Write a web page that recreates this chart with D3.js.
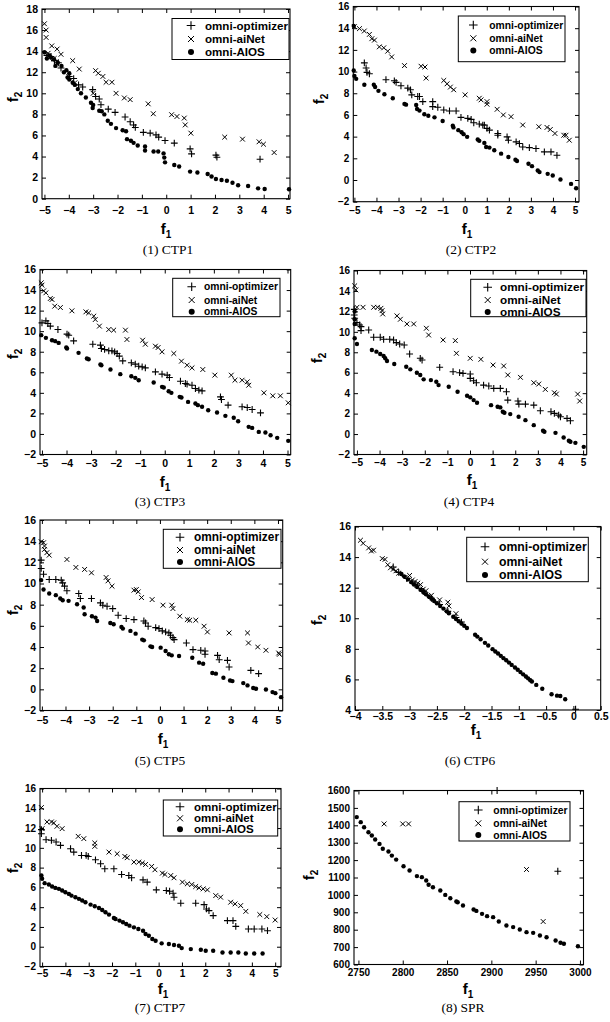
<!DOCTYPE html>
<html><head><meta charset="utf-8">
<script src="https://cdnjs.cloudflare.com/ajax/libs/d3/7.8.5/d3.min.js"></script>
<style>body{margin:0;background:#fff}svg{display:block}</style>
</head><body>
<svg id="chart" width="610" height="1022"></svg>
<script>
// ---------- data ----------
const seriesNames = ["omni-optimizer", "omni-aiNet", "omni-AIOS"];
const captions = ["(1) CTP1","(2) CTP2","(3) CTP3","(4) CTP4","(5) CTP5","(6) CTP6","(7) CTP7","(8) SPR"];

const xTicksCTP = [-5,-4,-3,-2,-1,0,1,2,3,4,5];
const yTicksCTP1 = [0,2,4,6,8,10,12,14,16,18];
const yTicksCTP = [-2,0,2,4,6,8,10,12,14,16];
const xTicksCTP6 = [-4,-3.5,-3,-2.5,-2,-1.5,-1,-0.5,0,0.5];
const yTicksCTP6 = [4,6,8,10,12,14,16];
const xTicksSPR = [2750,2800,2850,2900,2950,3000];
const yTicksSPR = [600,700,800,900,1000,1100,1200,1300,1400,1500,1600];

// CTP1
const ctp1Optimizer = [[-4.9,13.6],[-4.73,13.5],[-4.59,13.1],[-4.43,12.9],[-4.32,12.4],[-3.98,11.6],[-3.8,11.4],[-3.6,10.8],[-3.43,10.6],[-3.02,10.35],[-2.9,9.7],[-2.75,9.46],[-2.68,8.92],[-2.38,8.5],[-2.1,8.19],[-1.69,7.75],[-1.48,7.3],[-1.34,7.0],[-1.27,6.76],[-0.94,6.29],[-0.66,6.22],[-0.42,6.06],[-0.31,5.84],[-0.05,5.52],[0.33,5.27],[0.98,4.73],[1.04,4.25],[2.04,4.13],[2.08,3.94],[3.85,3.75]];
const ctp1AiNet = [[-5.0,16.6],[-4.93,16.0],[-4.93,15.3],[-4.85,13.8],[-4.7,14.5],[-4.48,14.2],[-4.6,13.3],[-4.32,13.7],[-4.0,11.6],[-3.84,13.1],[-3.75,11.0],[-3.57,12.3],[-3.0,10.0],[-2.9,12.15],[-2.79,11.9],[-2.6,11.6],[-2.47,11.05],[-2.23,11.05],[-2.06,10.0],[-1.72,9.56],[-1.48,9.4],[-0.74,9.0],[-0.53,8.06],[0.22,7.97],[0.44,7.8],[0.74,7.65],[0.78,7.0],[1.01,6.22],[2.4,5.84],[3.13,5.65],[3.81,5.4],[3.99,5.17],[4.43,4.38]];
const ctp1Aios = [[-5.0,13.9],[-4.9,13.3],[-4.8,13.6],[-4.73,13.4],[-4.6,13.2],[-4.55,12.6],[-4.45,12.9],[-4.3,12.6],[-4.2,12.0],[-4.1,12.2],[-4.05,11.5],[-3.98,11.9],[-3.98,11.3],[-3.84,11.0],[-3.75,10.8],[-3.63,10.4],[-3.5,10.0],[-3.3,9.6],[-3.09,9.1],[-3.02,8.6],[-3.0,8.9],[-2.75,8.35],[-2.65,8.3],[-2.54,8.0],[-2.4,7.4],[-2.27,7.1],[-2.06,6.7],[-1.79,6.5],[-1.65,6.4],[-1.61,5.65],[-1.45,5.5],[-1.34,5.3],[-1.17,5.05],[-0.87,4.95],[-0.87,4.57],[-0.52,4.48],[-0.33,4.48],[-0.11,4.3],[-0.08,3.9],[-0.05,3.45],[0.33,3.2],[0.53,3.05],[0.98,2.57],[1.28,2.48],[1.7,2.35],[1.86,2.1],[2.04,1.87],[2.27,1.78],[2.49,1.71],[2.72,1.52],[2.95,1.27],[3.36,1.2],[3.77,0.98],[4.04,0.92],[5.04,0.89]];

// CTP2
const ctp2Optimizer = [[-4.55,10.8],[-4.47,10.33],[-4.43,9.93],[-4.32,9.8],[-3.57,9.25],[-3.19,9.15],[-3.11,9.0],[-2.89,8.69],[-2.58,8.47],[-2.46,8.32],[-2.4,7.85],[-2.13,7.7],[-2.05,7.7],[-1.9,7.23],[-1.45,7.23],[-1.45,6.77],[-1.22,6.71],[-0.95,6.46],[-0.69,6.37],[-0.39,6.37],[-0.17,5.78],[0.14,5.68],[0.29,5.59],[0.41,5.28],[0.66,5.16],[0.82,5.07],[0.89,5.07],[1.01,4.76],[1.12,4.6],[1.5,4.29],[1.5,4.13],[1.92,3.98],[1.98,3.67],[2.33,3.52],[2.48,3.36],[2.63,3.05],[2.93,2.99],[3.23,2.9],[3.61,2.59],[3.91,2.59],[4.18,2.28]];
const ctp2AiNet = [[-5.0,14.14],[-4.77,13.96],[-4.55,13.74],[-4.32,13.43],[-4.21,13.03],[-4.09,12.9],[-3.87,12.28],[-3.67,12.19],[-3.49,11.88],[-3.31,11.35],[-2.73,10.55],[-1.98,10.49],[-1.8,10.42],[-1.75,9.4],[-0.95,9.18],[-0.8,8.87],[-0.65,8.57],[-0.5,8.32],[0.02,7.85],[0.66,7.54],[0.74,7.39],[1.01,7.23],[1.01,6.99],[1.47,6.52],[1.75,6.0],[2.1,5.84],[2.63,5.07],[3.36,4.91],[3.73,4.85],[3.88,4.66],[4.09,4.29],[4.49,4.13],[4.59,4.13],[4.74,3.67]];
const ctp2Aios = [[-5.03,14.2],[-5.03,10.1],[-5.0,9.6],[-4.92,9.33],[-4.55,8.78],[-4.12,8.78],[-4.06,8.57],[-3.91,8.22],[-3.64,7.91],[-3.26,7.54],[-2.73,7.02],[-2.66,6.95],[-2.2,6.92],[-2.16,6.55],[-2.05,6.4],[-1.83,6.06],[-1.65,5.93],[-1.37,5.78],[-1.0,5.44],[-0.54,5.0],[-0.51,4.85],[-0.29,4.6],[-0.14,4.41],[-0.05,4.23],[0.11,3.98],[0.59,3.73],[0.66,3.61],[0.89,3.42],[0.97,3.05],[1.12,2.99],[1.34,2.74],[1.65,2.43],[1.98,2.12],[2.3,1.87],[2.37,1.75],[2.89,1.5],[3.05,1.28],[3.31,0.88],[3.39,0.73],[3.76,0.57],[3.99,0.42],[4.34,0.05],[4.82,-0.36],[5.05,-0.76]];

// CTP3
const ctp3Optimizer = [[-5.0,10.81],[-4.84,11.0],[-4.76,10.75],[-4.66,10.49],[-4.35,10.16],[-3.98,9.71],[-3.91,9.61],[-3.71,9.06],[-2.93,8.73],[-2.62,8.64],[-2.58,8.31],[-2.45,8.22],[-2.28,8.09],[-2.15,8.09],[-2.04,7.99],[-1.94,7.83],[-1.85,7.57],[-1.71,7.11],[-1.36,6.92],[-1.2,6.79],[-1.06,6.59],[-0.92,6.53],[-0.79,6.43],[-0.38,6.04],[-0.11,5.82],[0.1,5.72],[0.19,5.49],[0.64,5.13],[0.84,4.91],[0.91,4.84],[1.11,4.74],[1.25,4.42],[1.39,4.26],[1.52,4.19],[2.27,3.61],[2.31,3.35],[2.58,2.8],[3.15,2.64],[3.36,2.57],[3.56,2.38],[3.9,2.05]];
const ctp3AiNet = [[-5.03,14.7],[-5.0,14.48],[-4.93,13.92],[-4.84,13.73],[-4.66,13.18],[-4.59,13.08],[-4.48,12.43],[-4.25,12.3],[-3.78,11.98],[-3.21,11.88],[-3.1,11.78],[-2.89,11.46],[-2.83,11.13],[-2.66,10.49],[-2.28,10.16],[-2.08,10.1],[-1.6,10.1],[-1.54,9.19],[-0.9,9.12],[-0.79,8.73],[-0.38,8.54],[-0.27,8.41],[-0.11,7.99],[0.37,7.83],[0.68,7.08],[0.91,6.69],[1.11,6.43],[1.55,6.27],[2.04,5.72],[2.71,5.72],[2.86,5.23],[3.15,5.23],[3.36,5.07],[3.42,4.74],[4.04,4.0],[4.4,3.71],[4.71,3.71],[5.03,3.03]];
const ctp3Aios = [[-5.03,9.61],[-4.84,9.35],[-4.59,9.12],[-4.46,9.03],[-4.32,8.86],[-4.01,8.41],[-3.98,8.31],[-3.51,7.89],[-3.17,7.34],[-3.1,7.27],[-2.62,6.76],[-2.58,6.69],[-2.21,6.27],[-1.81,5.82],[-1.36,5.62],[-1.2,5.46],[-1.06,5.23],[-0.45,5.0],[-0.11,4.58],[-0.04,4.52],[0.16,4.16],[0.27,4.0],[0.61,3.61],[0.68,3.55],[0.95,3.12],[1.25,2.96],[1.35,2.8],[1.52,2.64],[1.77,2.31],[2.13,2.09],[2.47,1.76],[2.81,1.57],[2.99,1.24],[3.42,0.69],[3.56,0.59],[3.83,0.2],[4.1,0.14],[4.31,-0.12],[4.58,-0.38],[5.03,-0.67]];

// CTP4
const ctp4Optimizer = [[-5.12,12.2],[-5.12,11.65],[-5.1,11.33],[-5.0,10.9],[-4.88,10.67],[-4.82,10.51],[-4.82,10.12],[-4.48,10.18],[-4.26,9.47],[-3.97,9.47],[-3.82,9.27],[-3.55,9.27],[-3.38,9.2],[-3.26,8.94],[-3.11,8.81],[-2.91,8.71],[-2.67,7.83],[-2.2,7.41],[-2.12,7.24],[-1.34,6.53],[-0.75,6.1],[-0.46,6.0],[-0.31,5.94],[0.01,5.87],[0.01,5.45],[0.16,5.22],[0.28,5.02],[0.6,4.79],[0.83,4.7],[1.05,4.47],[1.34,4.47],[1.61,4.14],[1.67,3.32],[2.12,3.23],[2.16,2.93],[2.45,2.93],[2.82,2.83],[3.11,2.28],[3.58,2.18],[3.73,2.02],[3.92,1.85],[4.0,1.69],[4.29,1.53],[4.44,1.3]];
const ctp4AiNet = [[-5.1,14.5],[-5.05,14.1],[-5.0,12.4],[-4.73,12.4],[-4.26,12.4],[-4.09,12.4],[-3.94,12.3],[-3.89,12.07],[-3.86,11.75],[-3.23,11.56],[-3.08,11.23],[-2.79,10.77],[-2.49,10.77],[-1.93,10.35],[-1.83,9.69],[-1.19,9.2],[-0.65,9.14],[-0.6,7.9],[0.01,7.41],[0.48,7.31],[1.02,6.75],[1.49,6.66],[1.67,5.78],[2.23,5.55],[2.82,5.02],[3.04,4.89],[3.33,4.37],[3.73,4.04],[3.82,3.91],[4.76,3.91],[4.85,3.23]];
const ctp4Aios = [[-5.1,11.98],[-5.1,11.23],[-5.1,10.77],[-5.1,9.37],[-5.0,8.81],[-4.34,8.22],[-4.14,8.06],[-3.97,7.83],[-3.82,7.64],[-3.75,7.41],[-3.67,7.15],[-3.35,6.85],[-2.82,6.59],[-2.64,6.33],[-2.35,6.0],[-2.2,5.77],[-2.05,5.35],[-1.73,5.28],[-1.49,5.12],[-1.39,4.79],[-0.94,4.63],[-0.55,4.14],[-0.13,3.75],[0.01,3.59],[0.16,3.32],[0.31,3.06],[0.93,2.83],[1.22,2.67],[1.34,2.61],[1.45,2.18],[1.52,2.08],[1.78,1.95],[2.15,1.69],[2.45,1.36],[2.82,0.87],[3.23,0.32],[3.29,0.22],[3.78,0.12],[4.14,-0.33],[4.37,-0.66],[4.44,-0.76],[4.66,-0.86],[5.03,-1.25]];

// CTP5
const ctp5Optimizer = [[-5.03,12.21],[-5.03,11.42],[-4.93,10.88],[-4.69,10.38],[-4.41,10.38],[-4.18,10.32],[-4.12,10.06],[-4.04,9.75],[-3.94,9.31],[-3.44,9.05],[-3.37,8.58],[-2.9,8.58],[-2.52,8.17],[-2.42,7.95],[-2.24,7.85],[-2.0,7.63],[-1.77,7.0],[-1.43,6.69],[-1.1,6.59],[-0.68,6.46],[-0.61,6.27],[-0.5,5.96],[-0.18,5.83],[-0.04,5.74],[0.1,5.52],[0.24,5.42],[0.38,5.33],[0.45,5.11],[0.55,4.89],[0.6,4.7],[1.12,4.38],[1.4,3.75],[1.73,3.69],[1.91,3.62],[1.91,3.31],[2.44,3.21],[2.51,2.8],[2.86,2.74],[2.93,2.11],[3.85,1.79],[4.18,1.48]];
const ctp5AiNet = [[-5.03,13.95],[-4.93,13.85],[-4.89,13.54],[-4.89,13.22],[-4.79,12.91],[-4.69,12.68],[-3.94,12.27],[-3.56,11.52],[-3.19,11.33],[-2.9,11.01],[-2.28,10.57],[-2.2,10.25],[-2.03,9.75],[-1.1,9.37],[-1.0,9.43],[-0.92,9.21],[-0.78,8.67],[-0.33,8.48],[0.13,7.95],[0.5,7.95],[0.55,7.63],[0.84,6.91],[1.16,6.59],[1.26,6.53],[1.52,6.53],[1.87,5.96],[2.01,5.42],[2.93,5.33],[3.71,5.33],[3.75,4.38],[4.14,4.0],[4.49,3.69],[5.03,3.43],[5.06,3.31]];
const ctp5Aios = [[-5.03,10.32],[-4.93,9.43],[-4.69,9.05],[-4.41,8.9],[-4.22,8.58],[-4.12,8.42],[-3.87,8.36],[-3.51,8.04],[-3.23,7.73],[-3.19,7.1],[-2.88,6.91],[-2.73,6.78],[-2.66,6.46],[-2.1,6.27],[-1.96,6.15],[-1.63,5.9],[-1.57,5.74],[-1.25,5.52],[-1.03,5.26],[-0.75,4.7],[-0.68,4.63],[-0.4,4.06],[-0.33,4.0],[0.03,3.94],[0.24,3.62],[0.38,3.31],[0.5,3.21],[0.81,3.15],[1.37,2.99],[1.66,2.52],[1.83,2.42],[2.22,1.54],[2.37,1.48],[2.69,1.1],[2.97,0.84],[3.07,0.78],[3.53,0.59],[3.71,0.37],[3.95,0.12],[4.07,0.05],[4.49,-0.01],[4.77,-0.26],[4.89,-0.36],[5.13,-0.74]];

// CTP6
const ctp6Optimizer = [[-3.3,13.35],[-3.2,13.0],[-3.05,12.6],[-2.9,12.2],[-2.75,11.75],[-2.6,11.3],[-2.45,10.9],[-2.3,10.45],[-2.15,10.05],[-2.05,9.75],[0.04,4.05]];
const ctp6AiNet = [[-3.9,15.1],[-3.85,14.9],[-3.75,14.6],[-3.7,14.4],[-3.66,14.45],[-3.5,13.9],[-3.45,13.85],[-3.4,13.5],[-3.35,13.3],[-3.3,13.2],[-3.25,13.1],[-3.2,12.95],[-3.0,12.8],[-2.95,12.5],[-2.9,12.4],[-2.85,12.3],[-2.8,12.2],[-2.75,11.9],[-2.7,11.8],[-2.6,11.5],[-2.45,11.2],[-2.3,11.05],[-2.28,10.8],[-2.15,10.3]];
const ctp6Aios = [[-3.15,12.89],[-3.1,12.74],[-3.03,12.54],[-2.97,12.36],[-2.92,12.21],[-2.86,12.04],[-2.8,11.86],[-2.75,11.72],[-2.7,11.57],[-2.65,11.42],[-2.6,11.27],[-2.55,11.13],[-2.5,10.98],[-2.44,10.8],[-2.38,10.63],[-2.32,10.45],[-2.28,10.33],[-2.2,10.1],[-2.15,9.95],[-2.1,9.8],[-2.05,9.66],[-2.0,9.51],[-1.95,9.36],[-1.8,8.92],[-1.76,8.8],[-1.7,8.63],[-1.62,8.39],[-1.56,8.22],[-1.48,7.98],[-1.43,7.83],[-1.38,7.69],[-1.33,7.54],[-1.28,7.39],[-1.23,7.25],[-1.18,7.1],[-1.13,6.95],[-1.07,6.78],[-1.02,6.63],[-0.97,6.48],[-0.92,6.33],[-0.87,6.19],[-0.83,6.07],[-0.79,5.95],[-0.76,5.86],[-0.68,5.64],[-0.57,5.39],[-0.4,5.03],[-0.3,4.94],[-0.24,4.92],[-0.15,4.7]];

// CTP7
const ctp7Optimizer = [[-5.03,11.84],[-5.03,11.43],[-4.83,10.82],[-4.6,10.76],[-4.4,10.59],[-4.21,10.25],[-3.78,9.91],[-3.64,9.57],[-3.31,9.23],[-3.11,9.23],[-3.02,9.13],[-2.71,8.79],[-2.49,8.39],[-2.31,7.88],[-1.92,7.88],[-1.59,7.31],[-1.28,7.2],[-1.16,6.97],[-0.67,6.76],[-0.49,6.53],[-0.1,5.75],[0.33,5.68],[0.47,5.61],[0.62,5.41],[0.66,5.01],[0.95,4.4],[1.59,4.4],[1.95,4.26],[2.05,3.82],[2.16,3.65],[2.34,3.14],[2.95,2.64],[3.19,2.64],[3.31,2.06],[3.85,1.79],[4.1,1.79],[4.43,1.79],[4.67,1.62]];
const ctp7AiNet = [[-5.03,14.07],[-5.0,11.94],[-4.79,12.62],[-4.6,12.62],[-4.5,12.52],[-4.36,12.18],[-4.14,11.94],[-3.45,11.16],[-3.21,10.93],[-2.74,10.49],[-2.74,10.15],[-2.13,9.57],[-1.78,9.4],[-1.45,9.13],[-1.35,9.0],[-1.06,8.56],[-0.85,8.56],[-0.7,8.46],[-0.56,8.32],[-0.3,8.12],[-0.16,7.78],[0.16,7.44],[0.27,7.31],[0.52,7.2],[0.66,6.97],[1.02,6.53],[1.23,6.36],[1.42,6.29],[1.59,6.09],[1.73,5.95],[1.91,5.85],[2.09,5.75],[2.45,5.17],[2.66,5.01],[3.09,4.5],[3.28,4.33],[3.52,4.16],[3.74,3.58],[4.34,3.25],[4.64,3.04],[5.0,2.7]];
const ctp7Aios = [[-5.03,7.2],[-5.0,6.87],[-4.89,6.43],[-4.71,6.29],[-4.57,6.09],[-4.43,5.95],[-4.28,5.85],[-4.14,5.68],[-4.0,5.51],[-3.85,5.34],[-3.74,5.17],[-3.57,5.01],[-3.42,4.84],[-3.28,4.67],[-3.14,4.5],[-2.92,4.26],[-2.74,4.09],[-2.56,3.92],[-2.42,3.72],[-2.28,3.48],[-2.13,3.25],[-1.92,2.91],[-1.85,2.81],[-1.68,2.64],[-1.53,2.47],[-1.39,2.3],[-1.25,2.13],[-1.06,1.96],[-0.87,1.79],[-0.67,1.62],[-0.56,1.28],[-0.42,1.11],[-0.27,0.78],[-0.13,0.61],[0.13,0.34],[0.44,0.27],[0.66,0.17],[0.87,0.1],[0.99,-0.14],[1.38,-0.24],[1.81,-0.31],[2.02,-0.41],[2.34,-0.41],[2.74,-0.58],[3.09,-0.58],[3.42,-0.58],[3.74,-0.68],[4.1,-0.68],[4.46,-0.68]];

// SPR
const sprOptimizer = [[2906.5,1600],[2975,1136]];
const sprAiNet = [[2779,1408],[2800,1408],[2806.6,1408],[2939.7,1146],[2958.5,847]];
const sprAios = [[2748.1,1447],[2752.6,1418],[2756.4,1389],[2761.3,1360],[2765.1,1341],[2768.9,1318],[2773.8,1293],[2777.5,1265],[2783.9,1249],[2787.7,1226],[2792.6,1203],[2800.9,1165],[2807.7,1140],[2816,1108],[2821.6,1102],[2826.5,1083],[2829.2,1058],[2834.1,1044],[2842.4,1025],[2848,1000],[2853.7,981],[2860.5,962],[2862,958],[2868,939],[2880,916],[2883.1,908],[2889.5,891],[2895.2,878],[2902,872],[2908.4,847],[2917,824],[2924.6,815],[2932.1,801],[2939.7,786],[2947.2,782],[2954.8,767],[2962.3,757],[2972.5,738],[2978.1,725],[2981.9,719],[2997.7,705]];

// ---------- layout (positions only) ----------
const panels = [
 {series:[ctp1Optimizer,ctp1AiNet,ctp1Aios], xd:[-5.1,5.08], yd:[0,18], xt:xTicksCTP, yt:yTicksCTP1,
  box:[42,9,290,198.7], fs:10.5, xp:8, leg:[172,18.5,289,59.5], rows:[25.5,39,52], sym:191, txt:205, tw:83, f1:[166,234], f2:[13,97], cap:[168,254]},
 {series:[ctp2Optimizer,ctp2AiNet,ctp2Aios], xd:[-5.05,5.18], yd:[-2,16], xt:xTicksCTP, yt:yTicksCTP,
  box:[353.3,6.5,579,201.7], fs:10, xp:5, leg:[458.3,16,565,61.7], rows:[25,38.3,50.5], sym:473.3, txt:489.3, tw:74, f1:[467,234], f2:[319,99], cap:[471,254]},
 {series:[ctp3Optimizer,ctp3AiNet,ctp3Aios], xd:[-5.08,5.13], yd:[-2,16], xt:xTicksCTP, yt:yTicksCTP,
  box:[40,269.5,290.7,454.5], fs:10.5, xp:5, leg:[172.7,278.3,280,316.7], rows:[286.7,300,311.7], sym:191.7, txt:204, tw:74, f1:[165,487], f2:[13,354], cap:[160,506]},
 {series:[ctp4Optimizer,ctp4AiNet,ctp4Aios], xd:[-5.13,5.16], yd:[-2,16], xt:xTicksCTP, yt:yTicksCTP,
  box:[354,270.5,586.7,454.5], fs:10, xp:4, leg:[470.7,279.3,586,316.7], rows:[287.3,300,312], sym:487.7, txt:500, tw:84, f1:[472,485], f2:[317,358], cap:[469,506]},
 {series:[ctp5Optimizer,ctp5AiNet,ctp5Aios], xd:[-5.08,5.2], yd:[-2,16], xt:xTicksCTP, yt:yTicksCTP,
  box:[40,520,282.7,710.5], fs:10.5, xp:6, leg:[163.3,529.3,281,568.3], rows:[537.3,550,562], sym:180, txt:194, tw:85, f1:[163,744], f2:[13,610], cap:[160,765]},
 {series:[ctp6Optimizer,ctp6AiNet,ctp6Aios], xd:[-4,0.5], yd:[4,16], xt:xTicksCTP6, yt:yTicksCTP6,
  box:[355,526.5,600.7,710], fs:10.5, xp:3, leg:[466.7,537.3,588.3,581.7], rows:[546.7,561.7,575], sym:485, txt:499, tw:87.7, f1:[476,735], f2:[317,620], cap:[470,765]},
 {series:[ctp7Optimizer,ctp7AiNet,ctp7Aios], xd:[-5.09,5.25], yd:[-2,16], xt:xTicksCTP, yt:yTicksCTP,
  box:[40,788.5,281,966.5], fs:10, xp:3.5, leg:[163.3,800,277.7,836], rows:[806.7,818.3,829.3], sym:180, txt:194, tw:82.7, f1:[163,994], f2:[13,868], cap:[160,1012]},
 {series:[sprOptimizer,sprAiNet,sprAios], xd:[2745,3004], yd:[600,1600], xt:xTicksSPR, yt:yTicksSPR,
  box:[354,790.5,583.5,964.5], fs:10, xp:4, leg:[459,801.7,570,841], rows:[810,823.3,835], sym:478.3, txt:493.3, tw:74.4, f1:[468,994], f2:[309,875], cap:[463,1012]}
];

// ---------- drawing ----------
const svg = d3.select("#chart");
const SANS = "'Liberation Sans', Arial, Helvetica, sans-serif";
const SERIF = "'Liberation Serif', 'Times New Roman', serif";
const fmt = v => String(v).replace("-", "\u2212");

function plusPath(x, y, s){ return `M${x-s},${y}H${x+s}M${x},${y-s}V${y+s}`; }
function crossPath(x, y, s){ return `M${x-s},${y-s}L${x+s},${y+s}M${x-s},${y+s}L${x+s},${y-s}`; }

panels.forEach((p, i) => {
  const [l, t, r, b] = p.box;
  const x = d3.scaleLinear().domain(p.xd).range([l, r]);
  const y = d3.scaleLinear().domain(p.yd).range([b, t]);
  const g = svg.append("g");

  // axes with inward ticks on all four sides
  const tk = 4;
  const axB = g.append("g").attr("transform", `translate(0,${b})`)
    .call(d3.axisBottom(x).tickValues(p.xt).tickSizeInner(-tk).tickSizeOuter(0).tickPadding(p.xp).tickFormat(fmt));
  const axL = g.append("g").attr("transform", `translate(${l},0)`)
    .call(d3.axisLeft(y).tickValues(p.yt).tickSizeInner(-tk).tickSizeOuter(0).tickPadding(4).tickFormat(fmt));
  const axT = g.append("g").attr("transform", `translate(0,${t})`)
    .call(d3.axisTop(x).tickValues(p.xt).tickSizeInner(-tk).tickSizeOuter(0).tickFormat(""));
  const axR = g.append("g").attr("transform", `translate(${r},0)`)
    .call(d3.axisRight(y).tickValues(p.yt).tickSizeInner(-tk).tickSizeOuter(0).tickFormat(""));
  [axB, axL, axT, axR].forEach(a => {
    a.select(".domain").remove();
    a.selectAll("line").attr("stroke", "#000").attr("stroke-width", 1);
    a.selectAll("text").attr("fill", "#000").style("font-family", SANS)
      .style("font-weight", "bold").style("font-size", p.fs + "px");
  });

  // frame
  g.append("rect").attr("x", l).attr("y", t).attr("width", r - l).attr("height", b - t)
    .attr("fill", "none").attr("stroke", "#000").attr("stroke-width", 1.1);

  const marks = g.append("g");
  // omni-optimizer (+)
  marks.selectAll("path.opt").data(p.series[0]).join("path").attr("class", "opt")
    .attr("d", d => plusPath(x(d[0]), y(d[1]), 3.4))
    .attr("stroke", "#000").attr("stroke-width", 1.1).attr("fill", "none");
  // omni-aiNet (x)
  marks.selectAll("path.ai").data(p.series[1]).join("path").attr("class", "ai")
    .attr("d", d => crossPath(x(d[0]), y(d[1]), 2.4))
    .attr("stroke", "#000").attr("stroke-width", 1).attr("fill", "none");
  // omni-AIOS (dots)
  marks.selectAll("circle").data(p.series[2]).join("circle")
    .attr("cx", d => x(d[0])).attr("cy", d => y(d[1])).attr("r", 2.2).attr("fill", "#000");

  // legend
  const [lx0, ly0, lx1, ly1] = p.leg;
  const lg = g.append("g");
  lg.append("rect").attr("x", lx0).attr("y", ly0).attr("width", lx1 - lx0).attr("height", ly1 - ly0)
    .attr("fill", "#fff").attr("stroke", "#000").attr("stroke-width", 1);
  lg.append("path").attr("d", plusPath(p.sym, p.rows[0], 4.3)).attr("stroke", "#000").attr("stroke-width", 1.1).attr("fill", "none");
  lg.append("path").attr("d", crossPath(p.sym, p.rows[1], 3)).attr("stroke", "#000").attr("stroke-width", 1).attr("fill", "none");
  lg.append("circle").attr("cx", p.sym).attr("cy", p.rows[2]).attr("r", 3).attr("fill", "#000");
  const texts = seriesNames.map((s, k) => lg.append("text").attr("x", p.txt).attr("y", p.rows[k])
    .attr("dy", "0.35em").text(s).style("font-family", SANS).style("font-weight", "bold").style("font-size", "11px"));
  const w0 = texts[0].node().getComputedTextLength();
  const fsL = 11 * p.tw / w0;
  texts.forEach(tn => tn.style("font-size", fsL.toFixed(2) + "px"));

  // axis labels
  const f1 = g.append("text").attr("x", p.f1[0]).attr("y", p.f1[1]).attr("text-anchor", "middle")
    .style("font-family", SANS).style("font-weight", "bold").style("font-size", "15px");
  f1.append("tspan").text("f");
  f1.append("tspan").attr("dy", 4).style("font-size", "10px").text("1");
  const f2 = g.append("text").attr("transform", `translate(${p.f2[0] + 5},${p.f2[1]}) rotate(-90)`)
    .attr("text-anchor", "middle")
    .style("font-family", SANS).style("font-weight", "bold").style("font-size", "15px");
  f2.append("tspan").text("f");
  f2.append("tspan").attr("dy", 4).style("font-size", "10px").text("2");

  // caption
  g.append("text").attr("x", p.cap[0]).attr("y", p.cap[1]).attr("text-anchor", "middle")
    .style("font-family", SERIF).style("font-size", "13.5px").text(captions[i]);
});
</script>
</body></html>
